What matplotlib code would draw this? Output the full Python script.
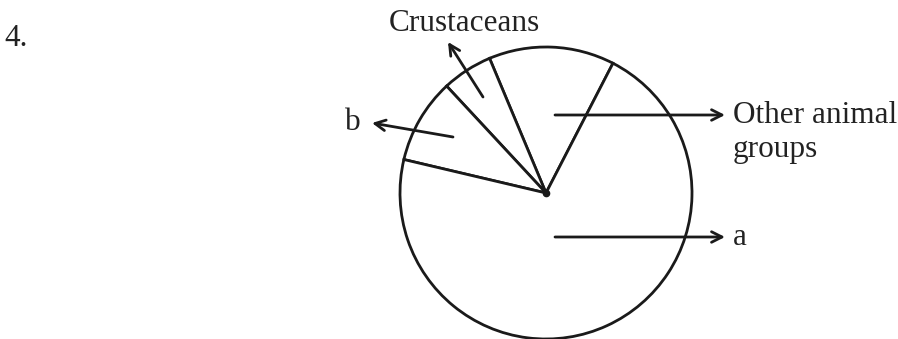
import matplotlib
matplotlib.use("Agg")
import matplotlib.pyplot as plt

# slice shares (percent of the circle)
labels = ["Other animal\ngroups", "Crustaceans", "b", "a"]
shares = [13.9, 5.6, 9.4, 71.1]
start_deg = 62.7  # edge between "a" and "Other animal groups"

W, H = 898, 339
plt.rcParams['font.family'] = ['Liberation Serif', 'DejaVu Serif']

fig = plt.figure(figsize=(W / 100, H / 100), dpi=100)
ax = fig.add_axes([0, 0, 1, 1])

cx, cy, r = 546, 193, 146
# y axis is flipped below, so angles are mirrored: go clockwise from -start
wedges, _ = ax.pie(shares, startangle=-start_deg, counterclock=False,
                   center=(cx, cy), radius=r, frame=True,
                   colors=['white'] * len(shares),
                   wedgeprops=dict(edgecolor='#1a1a1a', linewidth=2.0))
for w in wedges:
    w.set_clip_on(False)
ax.set_xlim(0, W)
ax.set_ylim(H, 0)  # pixel coords, y down
ax.set_aspect('equal')
ax.axis('off')

ax.plot(cx, cy, 'o', color='#1a1a1a', markersize=4.5)

txt = dict(fontsize=22.5, color='#222222')
arrow = dict(arrowstyle='->,head_length=0.75,head_width=0.38', color='#1a1a1a', lw=2.0,
             shrinkA=0, shrinkB=0)

ax.text(4, 46, "4.", ha='left', va='baseline', **txt)

ax.annotate("", xy=(448, 42), xytext=(483, 97), arrowprops=arrow)
ax.text(464, 31, labels[1], ha='center', va='baseline', **txt)

ax.annotate("", xy=(372, 123), xytext=(453, 137), arrowprops=arrow)
ax.text(345, 130, labels[2], ha='left', va='baseline', **txt)

ax.annotate("", xy=(725, 115), xytext=(555, 115), arrowprops=arrow)
ax.text(733, 123, "Other animal", ha='left', va='baseline', **txt)
ax.text(733, 157, "groups", ha='left', va='baseline', **txt)

ax.annotate("", xy=(725, 237), xytext=(555, 237), arrowprops=arrow)
ax.text(733, 245, labels[3], ha='left', va='baseline', **txt)

fig.savefig("out.png", dpi=100)
